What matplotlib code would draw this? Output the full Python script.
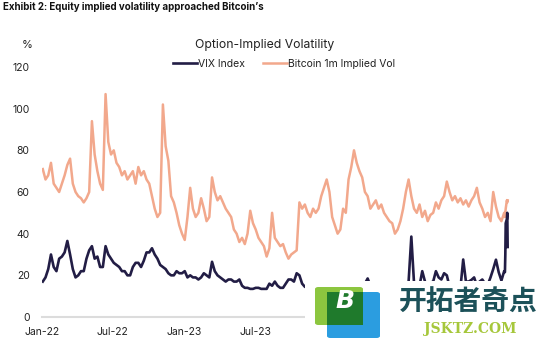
import matplotlib
matplotlib.use("Agg")
import matplotlib.pyplot as plt
import matplotlib.dates as mdates
from matplotlib.patches import Rectangle, FancyBboxPatch
import pandas as pd

plt.rcParams['font.family'] = ['Inter', 'DejaVu Sans']

# ---------------- data (weekly, Mondays) ----------------
week_start = "2022-01-03"
week_end = "2025-03-31"

btc_vol = [
    71, 66, 68, 74, 64,   62, 60, 64, 68,   73, 76, 64, 60,   58, 57, 55, 57,
    60, 94, 78, 70, 64,   61, 107, 84, 78,  80, 74, 72, 68,   70, 66, 68, 70, 64,
    72, 68, 70, 66,       64, 58, 52, 48, 50,   102, 82, 75, 58,   55, 50, 44, 40,
    37, 48, 62, 52, 48,   50, 57, 52, 46,   48, 67, 60, 56,   58, 55, 52, 50,
    48, 42, 40, 36, 38,   35, 40, 51, 45,   42, 38, 36, 34, 29,   33, 50, 38, 36,
    34, 35, 31, 28,       30, 31, 32, 55, 52,   54, 50, 48, 52,   50, 52, 58, 62,
    66, 60, 48, 44, 40,   42, 52, 50, 66,   72, 80, 74, 70,   67, 60, 58, 52, 54,
    56, 52, 54, 50,       48, 46, 45, 40,   42, 46, 52, 60, 66,   58, 52, 50, 54,
    48, 51, 46, 49, 50,   55, 52, 56, 58,   65, 60, 56, 58,   55, 57, 54, 56, 53,
    56, 58, 62, 55,       52, 48, 50, 46,   60, 53, 48, 46, 50,
]

vix = [
    17, 19, 23, 30, 24,   22, 28, 29, 31,   36.5, 30, 23, 19,   20, 22, 22, 28,
    32, 34, 28, 29, 24,   24, 34, 30, 28,   26, 25, 24, 22,   22, 20, 20, 24, 26,
    26, 24, 27, 31,       31, 33, 30, 28, 25,   24, 23, 21, 20,   20, 22, 21, 21,
    22, 19, 20, 19, 19,   18, 19, 21, 20,   19, 26.5, 22, 20,   19, 18, 17, 18,
    18, 17, 17, 18, 15,   14, 14, 13.5, 13.5,   14, 14, 13.5, 13.5, 13.5,   16, 15, 17, 15,
    14, 14, 16, 18,       18, 17, 21, 20, 16,   14.5, 14, 13, 12.5,   13, 12.3, 13.5, 12.5,
    13.5, 13, 13.3, 13.2, 13.5,   13, 14, 15, 13,   14, 14.5, 13, 13,   15, 16, 18.5, 15, 15,
    13, 12.5, 12, 12,     12.5, 12, 12.5, 12.5,   12.5, 12.5, 14, 16, 17,   38.6, 16, 15.5, 15,
    22, 17, 16, 16.5, 17,   22, 19, 18, 21,   20, 14.5, 16, 14,   13.5, 14, 27.6, 17, 17,
    17.8, 19, 15, 17,     18, 16, 15.5, 19,   23, 27.5, 21.5, 17.5, 22,
]

# daily tail (April 2025)
tail_dates = ["2025-04-02", "2025-04-03", "2025-04-04", "2025-04-07", "2025-04-08", "2025-04-09"]
tail_vix = [21.5, 30, 45, 47, 50, 33.6]
tail_btc = [48, 50, 52, 56, 55, 56]

# tick labels visible in the reference (later ones are covered)
x_ticks = ["2022-01-01", "2022-07-01", "2023-01-01", "2023-07-01"]
y_ticks = [0, 20, 40, 60, 80, 100, 120]

series_names = ["VIX Index", "Bitcoin 1m Implied Vol"]
vix_color = "#221d45"
btc_color = "#f2a88c"

# ---------------- build series ----------------
weeks = pd.date_range(week_start, week_end, freq="W-MON")
dates = list(weeks) + list(pd.to_datetime(tail_dates))
btc_all = btc_vol + tail_btc
vix_all = vix + tail_vix
n = min(len(dates), len(btc_all), len(vix_all))
dates = dates[:n]
btc_all = btc_all[:n]
vix_all = vix_all[:n]

W, H = 555, 342
fig = plt.figure(figsize=(W / 100, H / 100), dpi=100)
ax = fig.add_axes([42 / W, 1 - 317 / H, (510 - 42) / W, (317 - 67) / H])

ax.plot(dates, btc_all, color=btc_color, lw=1.8, label=series_names[1], zorder=2)
ax.plot(dates, vix_all, color=vix_color, lw=1.9, label=series_names[0], zorder=3)

ax.set_ylim(0, 120)
ax.set_xlim(pd.Timestamp("2022-01-01"), pd.Timestamp("2025-04-15"))
ax.set_yticks(y_ticks)
ax.set_xticks(pd.to_datetime(x_ticks))
ax.xaxis.set_major_formatter(mdates.DateFormatter("%b-%y"))
ax.tick_params(axis="both", length=0, labelsize=7.5, colors="#222222")
ax.tick_params(axis="y", pad=9)
ax.tick_params(axis="x", pad=7)
for s in ["top", "right", "left"]:
    ax.spines[s].set_visible(False)
ax.spines["bottom"].set_color("#dcdcdc")
ax.spines["bottom"].set_linewidth(1.5)

# titles
fig.text(3 / W, 1 - 7 / H, "Exhibit 2: Equity implied volatility approached Bitcoin\u2019s",
         fontsize=7, fontweight="bold", ha="left", va="center", color="#111111")
fig.text(27 / W, 1 - 45 / H, "%", fontsize=8, ha="center", va="center", color="#222222")
fig.text(265 / W, 1 - 45 / H, "Option-Implied Volatility", fontsize=8.8,
         ha="center", va="center", color="#222222")

handles, labels = ax.get_legend_handles_labels()
order = [1, 0]
leg = fig.legend([handles[i] for i in order], [labels[i] for i in order],
                 loc="center", bbox_to_anchor=(284 / W, 1 - 64 / H), ncol=2,
                 frameon=False, fontsize=7.5, handlelength=2.3, handletextpad=0.1,
                 columnspacing=1.8, borderaxespad=0, borderpad=0)
for t in leg.get_texts():
    t.set_color("#222222")

# ---------------- watermark overlay ----------------
def fx(px):
    return px / W

def fy(py):
    return 1 - py / H

fig.add_artist(Rectangle((fx(305), 0), 1 - fx(305), fy(281), transform=fig.transFigure,
                         facecolor="white", edgecolor="none", zorder=10))
fig.add_artist(FancyBboxPatch((fx(315), fy(325)), fx(363) - fx(315), fy(287) - fy(325),
                              boxstyle="round,pad=0,rounding_size=0.006",
                              transform=fig.transFigure, facecolor="#8cc63f",
                              edgecolor="none", zorder=11))
fig.add_artist(FancyBboxPatch((fx(327), fy(338)), fx(380) - fx(327), fy(292) - fy(338),
                              boxstyle="round,pad=0,rounding_size=0.006",
                              transform=fig.transFigure, facecolor="#2b9de0",
                              edgecolor="none", zorder=11))
fig.add_artist(Rectangle((fx(327), fy(325)), fx(363) - fx(327), fy(292) - fy(325),
                         transform=fig.transFigure, facecolor="#1f7a2c",
                         edgecolor="none", zorder=12))
fig.text(fx(345), fy(301), "B", fontsize=18, fontweight="bold", style="italic",
         color="white", ha="center", va="center", zorder=13,
         family=["DejaVu Sans"])
fig.text(fx(468), fy(303), "开拓者奇点", fontsize=20, fontweight="bold",
         color="#1c5159", ha="center", va="center", zorder=13,
         family=["Noto Sans CJK SC", "DejaVu Sans"])
fig.text(fx(470), fy(329), "JSKTZ.COM", fontsize=10, fontweight="bold",
         color="#a6c73b", ha="center", va="center", zorder=13,
         family=["DejaVu Serif"])

fig.savefig("out.png", dpi=100)
